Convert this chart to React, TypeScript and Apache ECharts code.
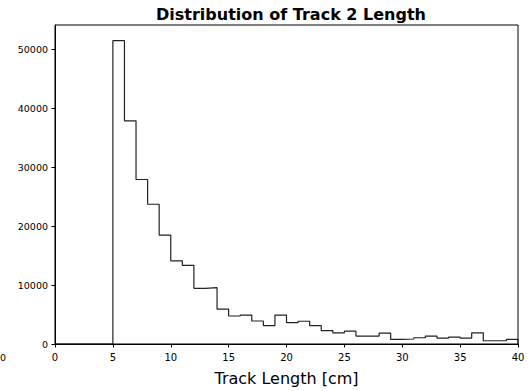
import React, { useEffect, useRef } from "react";
import * as echarts from "echarts";

const binStart = 0;
const binWidth = 1;
const counts = [
  0, 0, 0, 0, 0,
  51450, 37850, 27900, 23700, 18450,
  14100, 13350, 9450, 9550, 5900,
  4750, 4900, 3900, 3100, 4900,
  3620, 3860, 3120, 2280, 1900,
  2180, 1340, 1340, 1850, 770,
  850, 1060, 1340, 1010, 1170,
  1010, 1900, 550, 550, 770,
];
const xTicks = [0, 5, 10, 15, 20, 25, 30, 35, 40];
const yTickStep = 10000;
const yMax = 54100;
const titleText = "Distribution of Track 2 Length";
const xName = "Track Length [cm]";

export default function App() {
  const ref = useRef<HTMLDivElement>(null);
  useEffect(() => {
    if (!ref.current) return;
    const chart = echarts.init(ref.current, null, { renderer: "svg" });
    const data: [number, number][] = counts.map((c, i) => [binStart + i * binWidth, c]);
    const lastEdge = binStart + counts.length * binWidth;
    data.push([lastEdge, counts[counts.length - 1]]);
    data.push([lastEdge, 0]);
    const font = "DejaVu Sans";
    chart.setOption({
      animation: false,
      backgroundColor: "#ffffff",
      title: {
        text: titleText,
        left: 286,
        top: 1,
        textAlign: "center",
        textStyle: { fontFamily: font, fontWeight: "bold", fontSize: 16, color: "#000" },
      },
      grid: {
        left: 55,
        right: 11,
        top: 25,
        bottom: 44,
        show: true,
        borderColor: "#000",
        borderWidth: 1,
        backgroundColor: "transparent",
      },
      xAxis: {
        type: "value",
        min: xTicks[0],
        max: xTicks[xTicks.length - 1],
        interval: 5,
        name: xName,
        nameLocation: "middle",
        nameGap: 26,
        nameTextStyle: { fontFamily: font, fontSize: 16, color: "#000" },
        axisLine: { show: true, onZero: false, lineStyle: { color: "#000", width: 1 } },
        axisTick: { show: true, length: 3.5, lineStyle: { color: "#000" } },
        axisLabel: { fontFamily: font, fontSize: 10, color: "#000", margin: 8 },
        splitLine: { show: false },
      },
      yAxis: {
        type: "value",
        min: 0,
        max: yMax,
        interval: yTickStep,
        axisLine: { show: true, lineStyle: { color: "#000", width: 1 } },
        axisTick: { show: true, length: 3.5, lineStyle: { color: "#000" } },
        axisLabel: {
          fontFamily: font,
          fontSize: 9.5,
          color: "#000",
          margin: 7,
          showMaxLabel: false,
          formatter: (v: number) => String(v),
        },
        splitLine: { show: false },
      },
      graphic: [
        {
          type: "text",
          left: 0,
          top: 352,
          style: { text: "0", fontFamily: font, fontSize: 9.5, fill: "#000" },
        },
      ],
      series: [
        {
          type: "line",
          step: "end",
          data,
          showSymbol: false,
          symbol: "none",
          lineStyle: { color: "#222", width: 1.2 },
        },
      ],
    });
    return () => chart.dispose();
  }, []);
  return <div ref={ref} style={{ width: 529, height: 391, position: "absolute", left: 0, top: 0 }} />;
}
